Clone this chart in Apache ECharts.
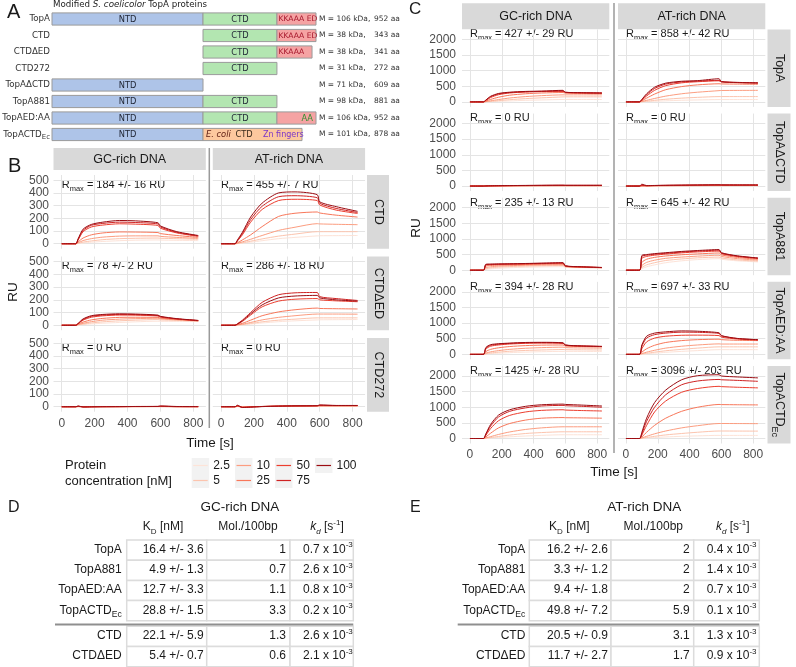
<!DOCTYPE html>
<html><head><meta charset="utf-8">
<script src="https://cdn.jsdelivr.net/npm/echarts@6/dist/echarts.min.js"></script>
<style>html,body{margin:0;padding:0;background:#fff}#c{width:796px;height:667px}</style>
</head><body><div id="c"></div>
<script>
// ================= DATA =================
// Panel A: protein constructs
const PROTEINS = ['TopA','CTD','CTDΔED','CTD272','TopAΔCTD','TopA881','TopAED:AA','TopACTDEc'];
const MASS_KDA = [106, 38, 38, 31, 71, 98, 106, 101];
const LENGTH_AA = [952, 343, 341, 272, 609, 881, 952, 878];
const DOMAIN_NAMES = ['NTD','CTD','KKAAA ED','KKAAA','AA','E. coli CTD'];
// [protein row, domain, start, end] in schematic position units (0-1000)
const DOMAINS = [
  [0,0,0,572],[0,1,572,852],[0,2,852,1000],
  [1,1,572,852],[1,2,852,1000],
  [2,1,572,852],[2,3,852,985],
  [3,1,572,852],
  [4,0,0,572],
  [5,0,0,572],[5,1,572,852],
  [6,0,0,572],[6,1,572,852],[6,4,852,1000],
  [7,0,0,572],[7,5,572,947]
];

// Sensorgrams: time points [s] and response [RU] for each concentration
const T = [0, 85, 100, 130, 180, 250, 350, 450, 585, 600, 700, 830];
const CONC = [2.5, 5, 10, 25, 50, 75, 100];
const X_TICKS = [0, 200, 400, 600, 800];
const B_Y_TICKS = [0, 100, 200, 300, 400, 500];
const C_Y_TICKS = [0, 500, 1000, 1500, 2000];
const DNA = ['GC-rich DNA', 'AT-rich DNA'];
const B_PROTEINS = ['CTD', 'CTDΔED', 'CTD272'];
const C_PROTEINS = ['TopA', 'TopAΔCTD', 'TopA881', 'TopAED:AA', 'TopACTDEc'];
const B_RMAX = [['184 +/- 16', '455 +/- 7'], ['78 +/- 2', '286 +/- 18'], ['0', '0']];
const C_RMAX = [['427 +/- 29', '858 +/- 42'], ['0', '0'], ['235 +/- 13', '645 +/- 42'], ['394 +/- 28', '697 +/- 33'], ['1425 +/- 28', '3096 +/- 203']];

const B_CTD_GC = [
  [0,0,2,6,12,18,24,28,30,29,27,25],
  [0,0,4,13,22,32,40,43,45,43,40,35],
  [0,0,8,25,40,52,60,62,62,58,50,42],
  [0,0,15,45,70,85,93,92,88,80,65,50],
  [0,0,30,95,132,147,157,154,144,122,85,58],
  [0,0,35,105,145,160,170,167,156,132,90,62],
  [0,0,40,115,152,170,183,180,165,140,95,65]
];
const B_CTD_AT = [
  [0,0,1,5,12,24,40,50,62,63,64,65],
  [0,0,2,8,20,38,60,76,95,95,95,95],
  [0,0,4,15,35,65,105,130,158,156,153,150],
  [0,0,8,30,70,135,215,240,250,242,225,210],
  [0,0,22,70,170,270,340,350,340,305,265,238],
  [0,0,25,80,190,295,370,378,362,318,278,246],
  [0,0,30,90,210,320,400,408,386,330,292,255]
];
const B_CTDdED_GC = [
  [0,0,1,5,10,16,22,27,32,31,30,30],
  [0,0,3,9,18,27,35,40,45,42,38,33],
  [0,0,5,15,28,40,48,52,55,50,43,34],
  [0,0,8,25,42,54,62,63,62,56,46,35],
  [0,0,12,40,63,74,80,79,73,64,49,36],
  [0,0,13,45,70,80,85,84,76,67,50,37],
  [0,0,15,50,75,85,90,88,80,70,52,38]
];
const B_CTDdED_AT = [
  [0,0,1,3,9,18,28,35,42,43,44,45],
  [0,0,2,5,14,27,40,48,58,58,58,58],
  [0,0,3,8,22,42,62,75,88,88,88,87],
  [0,0,5,15,40,75,105,122,135,132,130,128],
  [0,0,8,30,80,145,190,205,210,200,192,185],
  [0,0,12,40,100,180,240,255,258,225,210,195],
  [0,0,10,35,90,160,215,230,235,215,200,190]
];
const B_CTD272_GC = [
  [0,0,0,0,0,0,0,0,1,1,0,0],
  [0,0,1,0,0,0,0,1,1,1,0,0],
  [0,0,1,0,0,0,1,1,1,1,1,0],
  [0,0,2,0,0,1,1,1,2,2,1,1],
  [0,0,3,-1,0,1,1,2,2,3,1,1],
  [0,0,4,-1,0,1,1,2,2,4,1,1],
  [0,0,6,-2,-1,0,1,2,3,6,2,1]
];
const B_CTD272_AT = [
  [0,0,1,0,1,2,3,4,5,5,5,5],
  [0,0,2,-1,1,2,3,4,5,6,6,6],
  [0,0,3,-2,0,2,4,5,6,7,7,7],
  [0,0,4,-3,0,2,4,6,7,8,8,8],
  [0,0,6,-4,-1,2,5,6,8,10,9,9],
  [0,0,8,-5,-2,2,5,7,8,12,10,10],
  [0,0,12,-6,-3,1,5,7,8,14,10,10]
];
const C_TopA_GC = [
  [0,0,2,8,18,32,50,62,78,78,77,76],
  [0,0,5,18,40,70,105,130,160,162,162,162],
  [0,0,10,35,75,125,170,200,225,225,225,225],
  [0,0,25,80,150,215,260,285,300,280,270,262],
  [0,0,45,140,230,285,315,330,338,300,288,280],
  [0,0,55,165,255,300,325,338,345,305,292,283],
  [0,0,60,180,270,310,335,345,370,310,295,285]
];
const C_TopA_AT = [
  [0,0,3,9,20,35,52,63,75,75,75,75],
  [0,0,6,22,50,85,120,145,170,170,170,170],
  [0,0,15,50,110,185,260,310,360,365,368,370],
  [0,0,35,120,250,390,490,545,580,575,570,565],
  [0,0,55,190,370,520,610,645,675,640,615,600],
  [0,0,70,230,430,570,640,665,690,645,620,605],
  [0,0,80,260,470,600,660,680,740,650,625,610]
];
const C_TopAdCTD_GC = [
  [0,0,1,2,3,4,5,6,7,7,7,7],
  [0,0,1,2,4,5,7,8,9,9,9,9],
  [0,0,2,3,5,7,9,10,12,12,12,12],
  [0,0,2,4,7,9,12,14,16,15,15,15],
  [0,0,3,6,9,12,15,18,20,19,19,19],
  [0,0,3,7,10,14,18,21,24,22,22,22],
  [0,0,4,8,12,16,20,24,28,25,25,25]
];
const C_TopAdCTD_AT = [
  [0,0,2,3,5,6,8,9,10,10,10,10],
  [0,0,3,4,6,8,10,12,14,14,14,14],
  [0,0,5,6,9,11,14,16,18,18,18,18],
  [0,0,8,8,12,15,18,21,24,23,23,23],
  [0,0,15,10,15,19,23,27,30,29,28,28],
  [0,0,25,12,17,22,27,31,35,33,32,32],
  [0,0,60,14,19,25,30,35,40,37,36,36]
];
const C_TopA881_GC = [
  [0,0,25,45,62,80,95,105,115,90,80,72],
  [0,0,45,75,98,115,130,140,150,105,90,77],
  [0,0,80,110,130,145,158,165,175,115,95,80],
  [0,0,130,150,162,172,182,190,200,125,100,82],
  [0,0,165,178,185,192,200,210,222,130,104,84],
  [0,0,180,188,195,200,210,220,232,135,107,86],
  [0,0,190,195,200,205,215,225,240,140,110,88]
];
const C_TopA881_AT = [
  [0,0,50,110,170,240,300,340,370,350,300,265],
  [0,0,90,170,240,310,360,395,420,390,330,290],
  [0,0,150,250,320,380,420,450,480,440,370,320],
  [0,0,250,350,410,455,495,520,550,490,410,350],
  [0,0,380,440,480,515,555,585,610,530,440,375],
  [0,0,440,480,510,540,580,610,640,545,450,385],
  [0,0,470,500,530,560,600,630,660,560,460,390]
];
const C_TopAEDAA_GC = [
  [0,0,10,22,36,55,72,85,95,95,93,90],
  [0,0,20,45,70,100,125,140,155,150,145,140],
  [0,0,40,80,120,160,195,215,230,215,205,200],
  [0,0,90,160,210,250,280,295,300,265,250,240],
  [0,0,170,260,300,330,352,360,350,290,265,250],
  [0,0,200,290,325,350,370,375,362,295,268,252],
  [0,0,220,310,340,360,380,385,370,300,270,255]
];
const C_TopAEDAA_AT = [
  [0,0,6,18,38,65,95,120,150,150,150,150],
  [0,0,12,35,70,115,160,200,240,240,240,240],
  [0,0,25,70,130,200,260,300,335,330,330,330],
  [0,0,70,180,290,380,440,470,485,470,450,440],
  [0,0,180,400,520,580,610,615,600,550,490,455],
  [0,0,260,520,630,680,710,705,670,590,505,465],
  [0,0,300,580,680,720,750,740,690,600,510,470]
];
const C_TopACTDEc_GC = [
  [0,0,5,15,32,55,80,100,120,120,120,120],
  [0,0,10,30,65,110,160,190,215,215,215,215],
  [0,0,20,60,130,210,290,340,375,375,375,375],
  [0,0,50,170,340,480,590,650,670,665,660,650],
  [0,0,100,320,570,740,850,900,920,910,895,880],
  [0,0,130,400,690,870,980,1040,1060,1050,1030,1000],
  [0,0,150,450,750,920,1030,1080,1100,1090,1070,1040]
];
const C_TopACTDEc_AT = [
  [0,0,4,14,30,50,70,85,100,100,100,100],
  [0,0,8,30,70,115,160,200,240,240,238,236],
  [0,0,20,70,150,240,340,410,480,480,478,475],
  [0,0,50,200,420,650,870,1000,1090,1085,1080,1075],
  [0,0,110,420,850,1200,1480,1600,1670,1660,1640,1620],
  [0,0,150,550,1000,1400,1720,1840,1890,1880,1860,1830],
  [0,0,200,650,1150,1550,1880,2010,2040,2000,1970,1940]
];
const B_CURVES = [[B_CTD_GC, B_CTD_AT], [B_CTDdED_GC, B_CTDdED_AT], [B_CTD272_GC, B_CTD272_AT]];
const C_CURVES = [[C_TopA_GC, C_TopA_AT], [C_TopAdCTD_GC, C_TopAdCTD_AT], [C_TopA881_GC, C_TopA881_AT],
                  [C_TopAEDAA_GC, C_TopAEDAA_AT], [C_TopACTDEc_GC, C_TopACTDEc_AT]];

// Tables D and E
const TABLE_ROWS = ['TopA', 'TopA881', 'TopAED:AA', 'TopACTDEc', 'CTD', 'CTDΔED'];
const GC_KD = ['16.4 +/- 3.6', '4.9 +/- 1.3', '12.7 +/- 3.3', '28.8 +/- 1.5', '22.1 +/- 5.9', '5.4 +/- 0.7'];
const GC_MOL = ['1', '0.7', '1.1', '3.3', '1.3', '0.6'];
const GC_KDIS = ['0.7', '2.6', '0.8', '0.2', '2.6', '2.1'];
const AT_KD = ['16.2 +/- 2.6', '3.3 +/- 1.2', '9.4 +/- 1.8', '49.8 +/- 7.2', '20.5 +/- 0.9', '11.7 +/- 2.7'];
const AT_MOL = ['2', '2', '2', '5.9', '3.1', '1.7'];
const AT_KDIS = ['0.4', '1.4', '0.7', '0.1', '1.3', '0.9'];

// ================= STYLE / LAYOUT =================
const FONT = "'Liberation Sans', Arial, sans-serif";
const FONT_A = "'DejaVu Sans', Verdana, sans-serif";
const CONC_COLORS = ['#fde3d8', '#fcc4ae', '#fc9d80', '#f8775a', '#ec3e2f', '#cf2323', '#9b0c12'];
const GRID_COL = '#e4e4e4';
const STRIP = '#d9d9d9';
const X_MIN = -50, X_MAX = 876;

const opt = { animation: false, backgroundColor: '#ffffff', grid: [], xAxis: [], yAxis: [], series: [], graphic: { elements: [] } };
const G = opt.graphic.elements;

function subName(n) { return n.endsWith('Ec') ? '{a|' + n.slice(0, -2) + '}{s|Ec}' : '{a|' + n + '}'; }
function txt(x, y, text, size, o) {
  o = o || {};
  const el = { type: 'text', x: x, y: y, silent: true, rotation: o.rotation || 0,
    style: { text: text, fill: o.fill || '#1a1a1a', fontSize: size, fontFamily: o.family || FONT,
      fontStyle: o.italic ? 'italic' : 'normal', align: o.align || 'left', verticalAlign: o.valign || 'middle' } };
  if (o.rich) el.style.rich = o.rich;
  G.push(el);
}
function rect(x, y, w, h, fill, stroke, lw) {
  G.push({ type: 'rect', silent: true, shape: { x: x, y: y, width: w, height: h },
    style: { fill: fill || 'none', stroke: stroke || null, lineWidth: lw || 0 } });
}
function line(x1, y1, x2, y2, col, lw) {
  G.push({ type: 'line', silent: true, shape: { x1: x1, y1: y1, x2: x2, y2: y2 }, style: { stroke: col, lineWidth: lw } });
}
function richSub(size, fill, family) {
  return { a: { fontSize: size, fill: fill, fontFamily: family || FONT, lineHeight: size + 5 },
           s: { fontSize: size * 0.72, fill: fill, fontFamily: family || FONT, lineHeight: (size + 5) * 0.5, verticalAlign: 'bottom' } };
}

// ---------- Panel A ----------
opt.grid.push({ left: 52, top: 10.75, width: 264, height: 132, containLabel: false, outerBoundsMode: 'none' });
opt.xAxis.push({ type: 'value', gridIndex: 0, min: 0, max: 1000, show: false });
opt.yAxis.push({ type: 'category', gridIndex: 0, data: PROTEINS, inverse: true,
  axisLine: { show: false }, axisTick: { show: false }, splitLine: { show: false },
  axisLabel: { margin: 2, formatter: v => subName(v),
    rich: { a: { fontSize: 8.7, fontFamily: FONT_A, color: '#333', lineHeight: 13 },
            s: { fontSize: 7, fontFamily: FONT_A, color: '#333', lineHeight: 6, verticalAlign: 'bottom' } } } });
opt.yAxis.push({ type: 'category', gridIndex: 0, position: 'right', data: PROTEINS, inverse: true,
  axisLine: { show: false }, axisTick: { show: false }, splitLine: { show: false },
  axisLabel: { margin: 3, formatter: (v, i) => '{m|M = ' + MASS_KDA[i] + ' kDa,}{n|' + LENGTH_AA[i] + ' aa}',
    rich: { m: { fontSize: 7.5, fontFamily: FONT_A, color: '#333', width: 55 },
            n: { fontSize: 7.5, fontFamily: FONT_A, color: '#333' } } } });
const DOM_FILL = ['#aec4e8', '#b3e6b1', '#f5a3a3', '#f5a3a3', '#f5a3a3', '#fdc89e'];
opt.series.push({ type: 'custom', xAxisIndex: 0, yAxisIndex: 0, data: DOMAINS, silent: true, encode: { x: [2, 3], y: 0 },
  renderItem: function (params, api) {
    const row = api.value(0), d = api.value(1);
    const p0 = api.coord([api.value(2), row]), p1 = api.coord([api.value(3), row]);
    const h = api.size([0, 1])[1] * 0.74;
    const y = p0[1], x0 = p0[0], x1 = p1[0];
    const ch = [{ type: 'rect', shape: { x: x0, y: y - h / 2, width: x1 - x0, height: h },
      style: { fill: DOM_FILL[d], stroke: '#9a9a9a', lineWidth: 1 } }];
    const T8 = (x, text, fill, align, italic, fs) => ({ type: 'text', x: x, y: y + 0.5,
      style: { text: text, fill: fill, fontSize: fs || 8.3, fontFamily: FONT_A, fontStyle: italic ? 'italic' : 'normal', align: align, verticalAlign: 'middle' } });
    const name = DOMAIN_NAMES[d];
    if (d === 0 || d === 1) ch.push(T8((x0 + x1) / 2, name, '#1e2433', 'center'));
    else if (d === 2 || d === 3) ch.push(T8(x0 + 1.5, name, '#a5142a', 'left', false, 7.6));
    else if (d === 4) ch.push(T8(x1 - 3, name, '#2f8f2f', 'right'));
    else if (d === 5) {
      const parts = name.split(' ');
      ch.push(T8(x0 + 3, parts[0] + ' ' + parts[1], '#5a1a10', 'left', true));
      ch.push(T8(x0 + 41, parts[2], '#3a2a1a', 'center'));
      ch.push(T8(x0 + 60, 'Zn fingers', '#7a35c8', 'left', false, 8));
    }
    return { type: 'group', children: ch };
  } });
txt(7, 12, 'A', 20);
txt(53, 5, '{a|Modified }{i|S. coelicolor}{a| TopA proteins}', 8.7, { family: FONT_A,
  rich: { a: { fontSize: 8.7, fontFamily: FONT_A, fill: '#222' }, i: { fontSize: 8.7, fontFamily: FONT_A, fontStyle: 'italic', fill: '#222' } } });

// ---------- facet panel helper ----------
const plain = v => String(v);
function addPanel(left, top, width, height, yMin, yMax, yTicks, showX, showY, xMargin, yMargin, curves) {
  const gi = opt.grid.length, xi = opt.xAxis.length, yi = opt.yAxis.length;
  opt.grid.push({ left: left, top: top, width: width, height: height, containLabel: false, outerBoundsMode: 'none' });
  opt.xAxis.push({ type: 'value', gridIndex: gi, min: X_MIN, max: X_MAX,
    axisLine: { show: false }, axisTick: { show: false, customValues: X_TICKS },
    axisLabel: { show: showX, customValues: X_TICKS, formatter: plain, color: '#4d4d4d', fontSize: 12, fontFamily: FONT, margin: xMargin },
    splitLine: { show: true, lineStyle: { color: GRID_COL, width: 1 } } });
  opt.yAxis.push({ type: 'value', gridIndex: gi, min: yMin, max: yMax,
    axisLine: { show: false }, axisTick: { show: false, customValues: yTicks },
    axisLabel: { show: showY, customValues: yTicks, formatter: plain, color: '#4d4d4d', fontSize: 12, fontFamily: FONT, margin: yMargin },
    splitLine: { show: true, lineStyle: { color: GRID_COL, width: 1 } } });
  curves.forEach((vals, k) => opt.series.push({ type: 'line', xAxisIndex: xi, yAxisIndex: yi,
    data: T.map((t, i) => [t, vals[i]]), showSymbol: false, symbol: 'none', smooth: 0.25, silent: true,
    lineStyle: { width: 1, color: CONC_COLORS[k] }, itemStyle: { color: CONC_COLORS[k] }, emphasis: { disabled: true } }));
}
const RMAX_RICH = { r: { fontSize: 11, fontFamily: FONT, fill: '#1a1a1a', lineHeight: 16 },
  s: { fontSize: 7.5, fontFamily: FONT, fill: '#1a1a1a', lineHeight: 8, verticalAlign: 'bottom' } };
function rmaxText(x, y, v) { txt(x, y, '{r|R}{s|max}{r| = ' + v + ' RU}', 11, { rich: RMAX_RICH }); }

// ---------- Panel B ----------
const BX = [53.5, 212.8], BW = 152.3, BY = [175, 256.5, 338], BH = 73.7;
const xpos = (left, w, t) => left + (t - X_MIN) / (X_MAX - X_MIN) * w;
for (let i = 0; i < 3; i++) for (let j = 0; j < 2; j++) {
  addPanel(BX[j], BY[i], BW, BH, -39, 541, B_Y_TICKS, i === 2, j === 0, 6, 4.5, B_CURVES[i][j]);
  rmaxText(xpos(BX[j], BW, 0), BY[i] + 9.5, B_RMAX[i][j]);
}
DNA.forEach((d, j) => { rect(BX[j], 148, BW, 22, STRIP); txt(BX[j] + BW / 2, 159.5, d, 12.5, { align: 'center' }); });
B_PROTEINS.forEach((p, i) => { rect(367, BY[i], 22, BH, STRIP);
  txt(378, BY[i] + BH / 2, subName(p), 12.5, { align: 'center', rotation: -Math.PI / 2, rich: richSub(12.5, '#1a1a1a') }); });
line(209.3, 148, 209.3, 428, '#9a9a9a', 1.5);
txt(210, 443, 'Time [s]', 13.5, { align: 'center' });
txt(13, 292, 'RU', 13.5, { align: 'center', rotation: Math.PI / 2 });
txt(8, 166, 'B', 20);

// legend
txt(65, 465, 'Protein', 13);
txt(65, 481, 'concentration [nM]', 13);
const LEG_X = [191.7, 235, 275, 315];
CONC.forEach((c, k) => {
  const col = Math.floor(k / 2), row = k % 2;
  const x = LEG_X[col], yc = 465.5 + row * 15;
  rect(x, yc - 7.5, 17.5, 15, '#f2f2f2');
  line(x + 1.5, yc, x + 16, yc, CONC_COLORS[k], 1.2);
  txt(x + 21.5, yc, String(c), 12);
});

// ---------- Panel C ----------
const CX = [462, 618], CW = 147.3, CH = 77.5;
const CY = [0, 1, 2, 3, 4].map(i => 29.4 + i * 84.15);
for (let i = 0; i < 5; i++) for (let j = 0; j < 2; j++) {
  addPanel(CX[j], CY[i], CW, CH, -160, 2320, C_Y_TICKS, i === 4, j === 0, 5, 6, C_CURVES[i][j]);
  rmaxText(xpos(CX[j], CW, 0), CY[i] + 4.8, C_RMAX[i][j]);
}
DNA.forEach((d, j) => { rect(CX[j], 3.3, CW, 26, STRIP); txt(CX[j] + CW / 2, 16.5, d, 12.5, { align: 'center' }); });
C_PROTEINS.forEach((p, i) => { rect(767.5, CY[i], 23, CH, STRIP);
  txt(779, CY[i] + CH / 2, subName(p), 12.5, { align: 'center', rotation: -Math.PI / 2, rich: richSub(12.5, '#1a1a1a') }); });
line(614, 3, 614, 453, '#9a9a9a', 1.5);
txt(614, 472, 'Time [s]', 13.5, { align: 'center' });
txt(416, 228, 'RU', 13.5, { align: 'center', rotation: Math.PI / 2 });
txt(409, 9.5, 'C', 17);

// ---------- Tables D and E ----------
const TAB_RICH = {
  n: { fontSize: 12, fontFamily: FONT, fill: '#1a1a1a', lineHeight: 17 },
  s: { fontSize: 8, fontFamily: FONT, fill: '#1a1a1a', lineHeight: 8, verticalAlign: 'bottom' },
  p: { fontSize: 8, fontFamily: FONT, fill: '#1a1a1a', lineHeight: 8, verticalAlign: 'top' },
  it: { fontSize: 12, fontFamily: FONT, fontStyle: 'italic', fill: '#1a1a1a', lineHeight: 17 },
  is: { fontSize: 8, fontFamily: FONT, fontStyle: 'italic', fill: '#1a1a1a', lineHeight: 8, verticalAlign: 'bottom' },
  a: { fontSize: 12, fontFamily: FONT, fill: '#1a1a1a', lineHeight: 17 }
};
function drawTable(letterX, title, titleX, labelR, cols, hdrX, kd, mol, kdis, sepL) {
  const rowsTop = [540, 560.2, 580.4, 600.6, 626.3, 646.5], rh = 20.2;
  txt(letterX, 507.5, title === DNA[0] ? 'D' : 'E', 16);
  txt(titleX, 507.5, title, 13.5, { align: 'center' });
  txt(hdrX[0], 527, '{n|K}{s|D}{n| [nM]}', 12, { align: 'center', rich: TAB_RICH });
  txt(hdrX[1], 527, 'Mol./100bp', 12, { align: 'center' });
  txt(hdrX[2], 527, '{it|k}{is|d}{n| [s}{p|-1}{n|]}', 12, { align: 'center', rich: TAB_RICH });
  TABLE_ROWS.forEach((r, i) => {
    const y0 = rowsTop[i], yc = y0 + rh / 2 - 0.5;
    for (let c = 0; c < 3; c++) rect(cols[c], y0, cols[c + 1] - cols[c], rh, '#ffffff', '#dcdcdc', 1.5);
    txt(labelR, yc, subName(r), 12, { align: 'right', rich: richSub(12, '#1a1a1a') });
    txt(cols[1] - 3, yc, kd[i], 12, { align: 'right' });
    txt(cols[2] - 4, yc, mol[i], 12, { align: 'right' });
    txt(cols[2] + 13, yc, '{n|' + kdis[i] + ' x 10}{p|-3}', 12, { rich: TAB_RICH });
  });
  line(sepL, 624.5, cols[3], 624.5, '#8f8f8f', 2);
}
drawTable(8, DNA[0], 240, 121.7, [126.7, 206.7, 290, 353.3], [163, 248, 327], GC_KD, GC_MOL, GC_KDIS, 55);
drawTable(410, DNA[1], 644.3, 525.3, [529.3, 611, 693.7, 759.3], [569.3, 653.3, 732.7], AT_KD, AT_MOL, AT_KDIS, 457.7);

const chart = echarts.init(document.getElementById('c'), null, { renderer: 'canvas' });
chart.setOption(opt);
</script></body></html>
